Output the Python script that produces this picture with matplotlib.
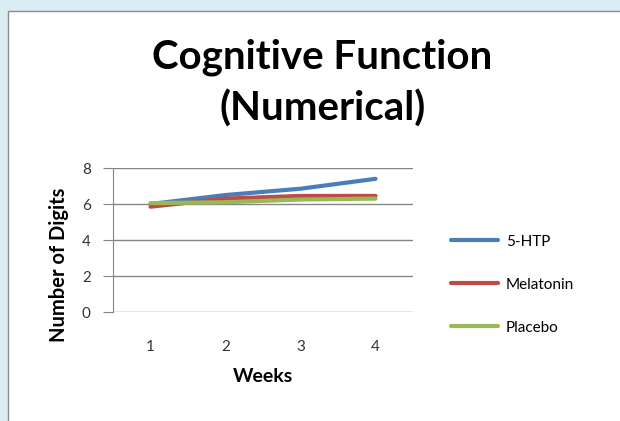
import matplotlib.pyplot as plt
from matplotlib.patches import Rectangle

weeks = [1, 2, 3, 4]
htp = [6.0, 6.5, 6.85, 7.4]
melatonin = [5.85, 6.3, 6.45, 6.45]
placebo = [6.05, 6.1, 6.25, 6.3]

plt.rcParams['font.family'] = ['Lato', 'DejaVu Sans']

fig = plt.figure(figsize=(6.2, 4.21), dpi=100)
fig.patch.set_facecolor('#d9edf3')
# white chart area with grey frame
fig.patches.append(Rectangle((8 / 620, -0.01), 1.0, 1 - 11 / 421 + 0.01,
                             transform=fig.transFigure, facecolor='white',
                             edgecolor='#8c8c8c', linewidth=1.0, zorder=-1))

ax = fig.add_axes([0.1823, 0.2589, 0.4839, 0.342])
ax.plot(weeks, htp, color='#4a7ebb', lw=3, label='5-HTP', solid_capstyle='round')
ax.plot(weeks, melatonin, color='#be4b48', lw=3, label='Melatonin', solid_capstyle='round')
ax.plot(weeks, placebo, color='#98b954', lw=3, label='Placebo', solid_capstyle='round')

ax.set_xlim(0.5, 4.5)
ax.set_ylim(0, 8)
ax.set_yticks([0, 2, 4, 6, 8])
ax.set_xticks(weeks)
ax.grid(axis='y', color='#868686', lw=1)
ax.set_axisbelow(True)
for s in ['top', 'right', 'bottom']:
    ax.spines[s].set_visible(False)
ax.spines['left'].set_color('#868686')
ax.tick_params(axis='y', length=7, color='#868686', labelsize=11, pad=9,
               labelcolor='#333333')
ax.tick_params(axis='x', length=0, labelsize=11, pad=20, labelcolor='#333333')

ax.set_xlabel('Weeks', fontsize=14, fontweight='bold', labelpad=10)
ax.set_ylabel('Number of Digits', fontsize=14.5, fontweight='bold', labelpad=9)
ax.yaxis.label.set_y(0.33)

fig.text(0.52, 0.803, 'Cognitive Function\n(Numerical)', ha='center', va='center',
         fontsize=29, fontweight='bold', linespacing=1.42)

ax.legend(loc='center left', bbox_to_anchor=(1.08, 0.19), frameon=False,
          fontsize=11, handlelength=3.1, handletextpad=0.5, labelspacing=1.9)

fig.savefig('out.png', dpi=100, facecolor=fig.get_facecolor())
